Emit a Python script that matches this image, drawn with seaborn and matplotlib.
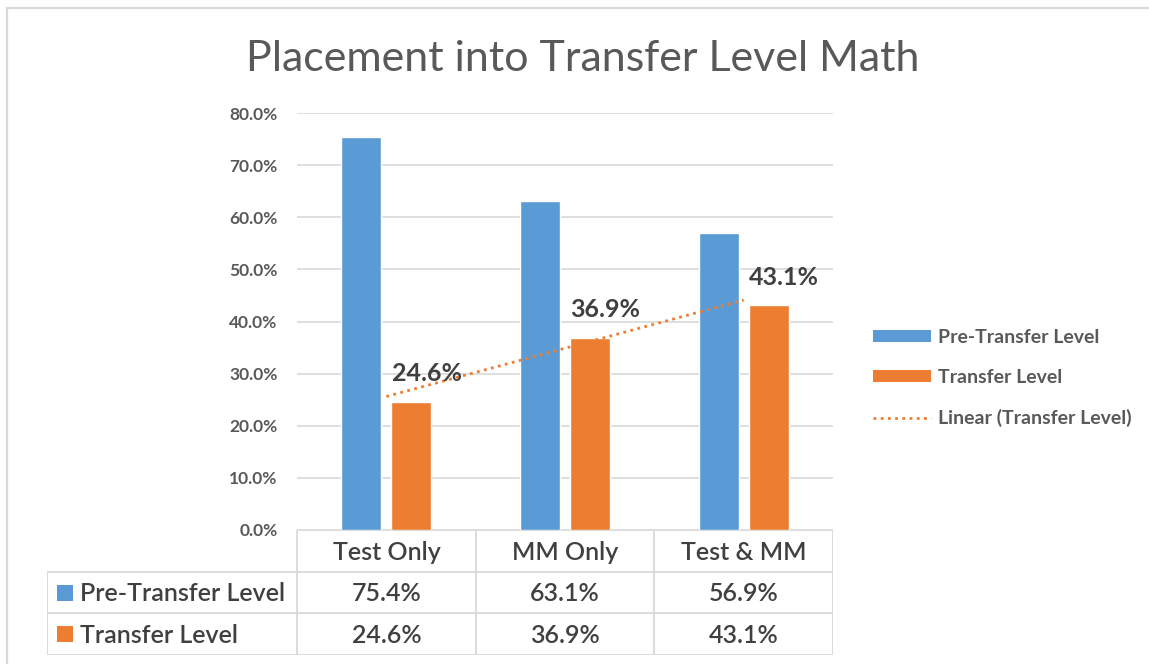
import numpy as np
import pandas as pd
import seaborn as sns
import matplotlib
matplotlib.use("Agg")
import matplotlib.pyplot as plt
from matplotlib.patches import Patch
from matplotlib.lines import Line2D

# ---- data ----
categories = ["Test Only", "MM Only", "Test & MM"]
series_names = ["Pre-Transfer Level", "Transfer Level"]
pre_transfer = [75.4, 63.1, 56.9]
transfer = [24.6, 36.9, 43.1]
y_ticks = [0, 10, 20, 30, 40, 50, 60, 70, 80]
title = "Placement into Transfer Level Math"
trend_label = "Linear (Transfer Level)"

BLUE = "#5B9BD5"
ORANGE = "#ED7D31"
GRID = "#D9D9D9"
TXT = "#595959"
TXT_DARK = "#404040"

sns.set_theme(style="white")
plt.rcParams["font.family"] = ["Lato", "DejaVu Sans"]

W, H = 1149, 664
fig = plt.figure(figsize=(W / 100, H / 100), dpi=100)
fig.patch.set_facecolor("white")

def fx(px):
    return px / W

def fy(py):
    return 1 - py / H

# main axes
ax = fig.add_axes([fx(297), fy(530), fx(833) - fx(297), fy(113) - fy(530)])

df = pd.DataFrame({
    "category": categories * 2,
    "series": [series_names[0]] * 3 + [series_names[1]] * 3,
    "value": pre_transfer + transfer,
})
sns.barplot(data=df, x="category", y="value", hue="series", order=categories,
            hue_order=series_names, palette=[BLUE, ORANGE], width=0.56, gap=0.2,
            legend=False, ax=ax, saturation=1)

# trendline (linear fit on transfer level)
xs = np.arange(len(categories))
coef = np.polyfit(xs, transfer, 1)
ax.plot(xs[[0, -1]], np.polyval(coef, xs[[0, -1]]), color=ORANGE, lw=2.0,
        linestyle=(0, (1, 1.6)), dash_capstyle="butt", zorder=3)

# data labels on transfer bars
orange_bars = ax.containers[1]
for bar, v in zip(orange_bars, transfer):
    cx = bar.get_x() + bar.get_width() / 2 + 0.085
    ax.annotate(f"{v:.1f}%", (cx, v), xytext=(0, 12), textcoords="offset points",
                ha="center", va="bottom", fontsize=18, fontweight="bold", color=TXT_DARK)

ax.set_xlim(-0.5, len(categories) - 0.5)
ax.set_ylim(y_ticks[0], y_ticks[-1])
ax.set_yticks(y_ticks)
ax.set_yticklabels([f"{t:.1f}%" for t in y_ticks], fontsize=12.5, fontweight="bold", color=TXT)
ax.set_xticks([])
ax.set_xlabel("")
ax.set_ylabel("")
ax.tick_params(axis="y", length=0, pad=14)
ax.yaxis.grid(True, color=GRID, lw=1.2)
ax.set_axisbelow(True)
for s in ax.spines.values():
    s.set_visible(False)

# ---- data table ----
axt = fig.add_axes([fx(47), fy(655), fx(833) - fx(47), fy(530) - fy(655)])
lab_w = 250 / 178.6
x0 = -0.5 - lab_w
n = len(categories)
axt.set_xlim(x0, n - 0.5)
axt.set_ylim(0, 3)
axt.axis("off")
lk = dict(color=GRID, lw=1.3, solid_capstyle="butt")
for b in np.arange(n + 1) - 0.5:
    axt.plot([b, b], [0, 3], **lk)
axt.plot([x0, x0], [0, 2], **lk)
for yy in [0, 1, 2]:
    axt.plot([x0, n - 0.5], [yy, yy], **lk)
axt.plot([-0.5, n - 0.5], [3, 3], **lk)

tk = dict(fontsize=18, color=TXT_DARK, fontweight="semibold")
for i, c in enumerate(categories):
    axt.text(i, 2.45, c, ha="center", va="center", **tk)
rows = [(series_names[0], pre_transfer, BLUE), (series_names[1], transfer, ORANGE)]
for r, (name, vals, col) in enumerate(rows):
    yc = 1.5 - r
    axt.plot([x0 + 18 / 178.6], [yc], marker="s", ms=11.5, color=col, mew=0)
    axt.text(x0 + 33 / 178.6, yc - 0.03, name, ha="left", va="center", **tk)
    for i, v in enumerate(vals):
        axt.text(i, yc - 0.03, f"{v:.1f}%", ha="center", va="center", **tk)

# ---- legend ----
handles = [Patch(facecolor=BLUE, edgecolor="none"), Patch(facecolor=ORANGE, edgecolor="none"),
           Line2D([0], [0], color=ORANGE, lw=2.0, linestyle=(0, (1, 1.6)))]
fig.legend(handles, series_names + [trend_label], loc="center left",
           bbox_to_anchor=(fx(873), fy(378)), frameon=False, borderpad=0, borderaxespad=0,
           handlelength=3.0, handleheight=0.6, handletextpad=0.35, labelspacing=1.2,
           prop={"size": 14, "weight": "bold"}, labelcolor=TXT)

# ---- title ----
fig.text(fx(583), fy(71), title, ha="center", va="baseline", fontsize=31,
         fontweight="normal", color=TXT)

# ---- chart frame ----
fc = dict(color=GRID, lw=1.6, transform=fig.transFigure)
fig.add_artist(Line2D([fx(7), fx(7)], [0, fy(8)], **fc))
fig.add_artist(Line2D([fx(7), 1], [fy(8), fy(8)], **fc))

fig.savefig("out.png", dpi=100, facecolor="white")
